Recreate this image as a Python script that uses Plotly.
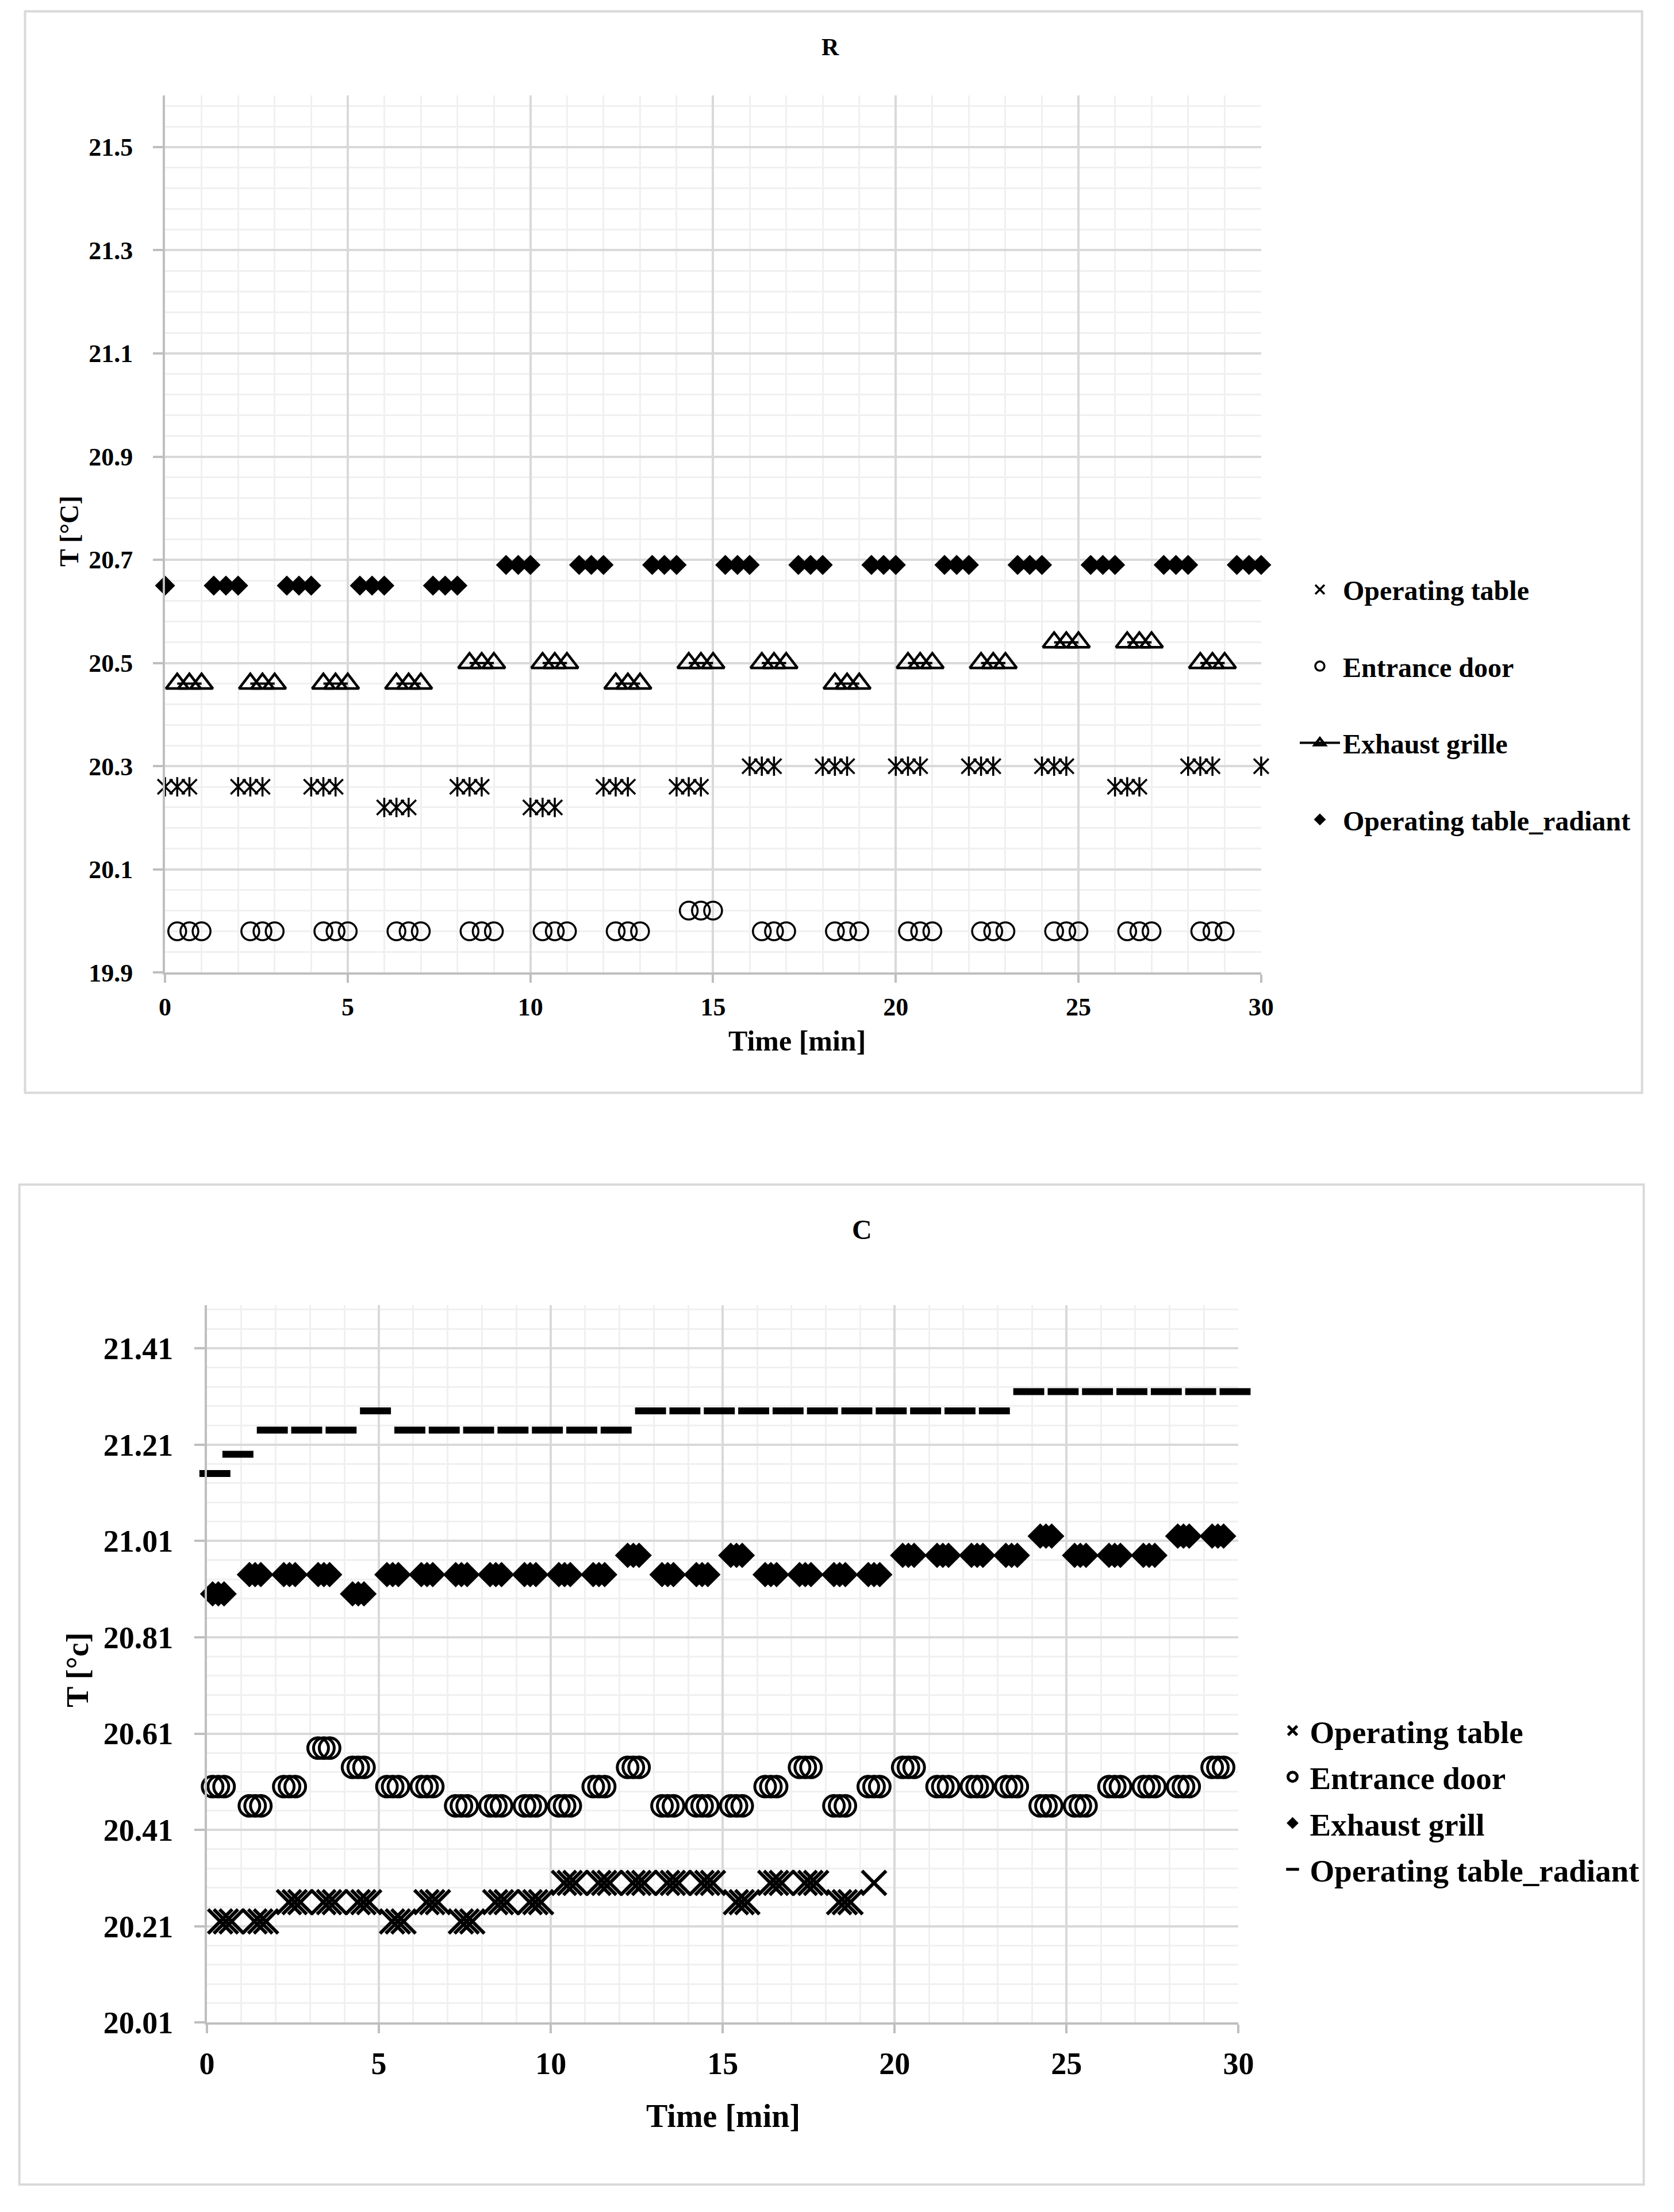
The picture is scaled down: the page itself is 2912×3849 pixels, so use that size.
import plotly.graph_objects as go

W, H = 2912, 3849
FONT = "Liberation Serif"

# ---------------- Chart R (top) : readings every 20 s, groups of 3 ----------------
R_STEP = 1 / 3
# Operating table: groups start at even minutes
R_OT_ANCHOR = [0, 2, 4, 6, 8, 10, 12, 14, 16, 18, 20, 22, 24, 26, 28, 30]
R_OT_VAL = [20.26, 20.26, 20.26, 20.22, 20.26, 20.22, 20.26, 20.26,
            20.30, 20.30, 20.30, 20.30, 20.30, 20.26, 20.30, 20.30]
R_OT_N = [3, 3, 3, 3, 3, 3, 3, 3, 3, 3, 3, 3, 3, 3, 3, 1]
# Entrance door: groups end at odd minutes
R_ED_ANCHOR = [1, 3, 5, 7, 9, 11, 13, 15, 17, 19, 21, 23, 25, 27, 29]
R_ED_VAL = [19.98, 19.98, 19.98, 19.98, 19.98, 19.98, 19.98, 20.02,
            19.98, 19.98, 19.98, 19.98, 19.98, 19.98, 19.98]
R_ED_N = [3] * 15
# Exhaust grille: groups end at odd minutes
R_EG_ANCHOR = [1, 3, 5, 7, 9, 11, 13, 15, 17, 19, 21, 23, 25, 27, 29]
R_EG_VAL = [20.46, 20.46, 20.46, 20.46, 20.50, 20.50, 20.46, 20.50,
            20.50, 20.46, 20.50, 20.50, 20.54, 20.54, 20.50]
R_EG_N = [3] * 15
# Operating table_radiant: groups end at even minutes
R_RAD_ANCHOR = [0, 2, 4, 6, 8, 10, 12, 14, 16, 18, 20, 22, 24, 26, 28, 30]
R_RAD_VAL = [20.65, 20.65, 20.65, 20.65, 20.65, 20.69, 20.69, 20.69,
             20.69, 20.69, 20.69, 20.69, 20.69, 20.69, 20.69, 20.69]
R_RAD_N = [1, 3, 3, 3, 3, 3, 3, 3, 3, 3, 3, 3, 3, 3, 3, 3]

# ---------------- Chart C (bottom) : readings every 10 s, clusters of 3 ----------------
C_STEP = 1 / 6
C_OT_CENTER = [0.55, 1.55, 2.55, 3.55, 4.55, 5.55, 6.55, 7.55, 8.55, 9.55,
               10.55, 11.55, 12.55, 13.55, 14.55, 15.55, 16.55, 17.55, 18.55, 19.4]
C_OT_VAL = [20.22, 20.22, 20.26, 20.26, 20.26, 20.22, 20.26, 20.22, 20.26, 20.26,
            20.30, 20.30, 20.30, 20.30, 20.30, 20.26, 20.30, 20.30, 20.26, 20.30]
C_OT_N = [3] * 19 + [1]

C_MIN_CENTER = [0.33, 1.4, 2.4, 3.4, 4.4, 5.4, 6.4, 7.4, 8.4, 9.4,
                10.4, 11.4, 12.4, 13.4, 14.4, 15.4, 16.4, 17.4, 18.4, 19.4,
                20.4, 21.4, 22.4, 23.4, 24.4, 25.4, 26.4, 27.4, 28.4, 29.4]
C_ED_VAL = [20.50, 20.46, 20.50, 20.58, 20.54, 20.50, 20.50, 20.46, 20.46, 20.46,
            20.46, 20.50, 20.54, 20.46, 20.46, 20.46, 20.50, 20.54, 20.46, 20.50,
            20.54, 20.50, 20.50, 20.50, 20.46, 20.46, 20.50, 20.50, 20.50, 20.54]
C_ED_N = [3] * 30
C_EG_VAL = [20.90, 20.94, 20.94, 20.94, 20.90, 20.94, 20.94, 20.94, 20.94, 20.94,
            20.94, 20.94, 20.98, 20.94, 20.94, 20.98, 20.94, 20.94, 20.94, 20.94,
            20.98, 20.98, 20.98, 20.98, 21.02, 20.98, 20.98, 20.98, 21.02, 21.02]
C_EG_N = [3] * 30

C_RAD_T = [0.23, 0.9, 1.9, 2.9, 3.9, 4.9, 5.9, 6.9, 7.9, 8.9, 9.9,
           10.9, 11.9, 12.9, 13.9, 14.9, 15.9, 16.9, 17.9, 18.9, 19.9,
           20.9, 21.9, 22.9, 23.9, 24.9, 25.9, 26.9, 27.9, 28.9, 29.9]
C_RAD_VAL = [21.15, 21.19, 21.24, 21.24, 21.24, 21.28, 21.24, 21.24, 21.24, 21.24, 21.24,
             21.24, 21.24, 21.28, 21.28, 21.28, 21.28, 21.28, 21.28, 21.28, 21.28,
             21.28, 21.28, 21.28, 21.32, 21.32, 21.32, 21.32, 21.32, 21.32, 21.32]


def expand(anchor, vals, counts, step, mode, gaps=False):
    xs, ys = [], []
    for a, v, n in zip(anchor, vals, counts):
        for k in range(n):
            if mode == "start":
                t = a + k * step
            elif mode == "end":
                t = a - (n - 1 - k) * step
            else:
                t = a + (k - (n - 1) / 2) * step
            xs.append(t)
            ys.append(v)
        if gaps:
            xs.append(None)
            ys.append(None)
    return xs, ys


def px_x(p):
    return p / W


def px_y(p):
    return 1 - p / H


fig = go.Figure()
BLACK = "black"

# ---- top traces ----
x, y = expand(R_OT_ANCHOR, R_OT_VAL, R_OT_N, R_STEP, "start")
fig.add_trace(go.Scatter(x=x, y=y, mode="markers", name="Operating table", legendgroup="r1",
                         marker=dict(symbol="x-thin-open", size=26, color=BLACK, line=dict(width=3.5, color=BLACK)),
                         cliponaxis=False, xaxis="x", yaxis="y", legend="legend"))
fig.add_trace(go.Scatter(x=x, y=y, mode="markers", name="Operating table", legendgroup="r1", showlegend=False,
                         marker=dict(symbol="line-ns-open", size=24, color=BLACK, line=dict(width=3.5, color=BLACK)),
                         cliponaxis=False, xaxis="x", yaxis="y", legend="legend"))
x, y = expand(R_ED_ANCHOR, R_ED_VAL, R_ED_N, R_STEP, "end")
fig.add_trace(go.Scatter(x=x, y=y, mode="markers", name="Entrance door", legendgroup="r2",
                         marker=dict(symbol="circle-open", size=31, color=BLACK, line=dict(width=3.5, color=BLACK)),
                         cliponaxis=False, xaxis="x", yaxis="y", legend="legend"))
x, y = expand(R_EG_ANCHOR, R_EG_VAL, R_EG_N, R_STEP, "end", gaps=True)
fig.add_trace(go.Scatter(x=x, y=y, mode="lines+markers", name="Exhaust grille", legendgroup="r3",
                         connectgaps=False, line=dict(color=BLACK, width=4),
                         marker=dict(symbol="triangle-up-open", size=34, color=BLACK, line=dict(width=4.5, color=BLACK)),
                         cliponaxis=False, xaxis="x", yaxis="y", legend="legend"))
x, y = expand(R_RAD_ANCHOR, R_RAD_VAL, R_RAD_N, R_STEP, "end")
fig.add_trace(go.Scatter(x=x, y=y, mode="markers", name="Operating table_radiant", legendgroup="r4",
                         marker=dict(symbol="diamond", size=27, color=BLACK, line=dict(width=0)),
                         cliponaxis=False, xaxis="x", yaxis="y", legend="legend"))

# ---- bottom traces ----
x, y = expand(C_OT_CENTER, C_OT_VAL, C_OT_N, C_STEP, "center")
fig.add_trace(go.Scatter(x=x, y=y, mode="markers", name="Operating table", legendgroup="c1",
                         marker=dict(symbol="x-thin-open", size=42, color=BLACK, line=dict(width=6, color=BLACK)),
                         cliponaxis=False, xaxis="x2", yaxis="y2", legend="legend2"))
x, y = expand(C_MIN_CENTER, C_ED_VAL, C_ED_N, C_STEP, "center")
fig.add_trace(go.Scatter(x=x, y=y, mode="markers", name="Entrance door", legendgroup="c2",
                         marker=dict(symbol="circle-open", size=36, color=BLACK, line=dict(width=5, color=BLACK)),
                         cliponaxis=False, xaxis="x2", yaxis="y2", legend="legend2"))
x, y = expand(C_MIN_CENTER, C_EG_VAL, C_EG_N, C_STEP, "center")
fig.add_trace(go.Scatter(x=x, y=y, mode="markers", name="Exhaust grill", legendgroup="c3",
                         marker=dict(symbol="diamond", size=34, color=BLACK, line=dict(width=0)),
                         cliponaxis=False, xaxis="x2", yaxis="y2", legend="legend2"))
fig.add_trace(go.Scatter(x=C_RAD_T, y=C_RAD_VAL, mode="markers", name="Operating table_radiant", legendgroup="c4",
                         marker=dict(symbol="line-ew-open", size=38.5, color=BLACK, line=dict(width=12, color=BLACK)),
                         cliponaxis=False, xaxis="x2", yaxis="y2", legend="legend2"))

MAJ = "#d9d9d9"
MINC = "#f0f0f0"
AXL = "#bfbfbf"


def xaxis(domain, anchor, fsize, ticklen, standoff):
    return dict(domain=domain, anchor=anchor, range=[0, 30], tick0=0, dtick=5,
                showgrid=True, gridcolor=MAJ, gridwidth=4,
                minor=dict(tick0=0, dtick=1, showgrid=True, gridcolor=MINC, gridwidth=3, ticks=""),
                ticks="outside", ticklen=ticklen, tickwidth=4, tickcolor=AXL,
                showline=True, linecolor=AXL, linewidth=4, zeroline=False,
                tickfont=dict(family=FONT, size=fsize, color=BLACK, weight="bold"),
                ticklabelstandoff=standoff, fixedrange=True)


def yaxis(domain, anchor, rng, t0, fmt, fsize, ticklen, standoff):
    return dict(domain=domain, anchor=anchor, range=rng, tick0=t0, dtick=0.2, tickformat=fmt,
                showgrid=True, gridcolor=MAJ, gridwidth=4,
                minor=dict(tick0=t0, dtick=0.04, showgrid=True, gridcolor=MINC, gridwidth=3, ticks=""),
                ticks="outside", ticklen=ticklen, tickwidth=4, tickcolor=AXL,
                showline=True, linecolor=AXL, linewidth=4, zeroline=False,
                tickfont=dict(family=FONT, size=fsize, color=BLACK, weight="bold"),
                ticklabelstandoff=standoff, fixedrange=True)


fig.update_layout(
    width=W, height=H, margin=dict(l=0, r=0, t=0, b=0, pad=0),
    paper_bgcolor="white", plot_bgcolor="white",
    xaxis=xaxis([px_x(277), px_x(2211)], "y", 44, 14, 4),
    yaxis=yaxis([px_y(1706), px_y(167.5)], "x", [19.9, 21.6], 19.9, ".1f", 44, 17, 26),
    xaxis2=xaxis([px_x(351), px_x(2171)], "y2", 54, 15, 6),
    yaxis2=yaxis([px_y(3548), px_y(2289)], "x2", [20.01, 21.50], 20.01, ".2f", 54, 18, 26),
    legend=dict(x=px_x(2274), y=px_y(996), xanchor="left", yanchor="top",
                font=dict(family=FONT, size=48, color=BLACK, weight="bold"),
                itemwidth=70, tracegroupgap=68, bgcolor="rgba(0,0,0,0)", borderwidth=0),
    legend2=dict(x=px_x(2236), y=px_y(2993), xanchor="left", yanchor="top",
                 font=dict(family=FONT, size=55, color=BLACK, weight="bold"),
                 itemwidth=50, tracegroupgap=6, bgcolor="rgba(0,0,0,0)", borderwidth=0),
    showlegend=True,
    hovermode=False,
    shapes=[
        dict(type="rect", xref="paper", yref="paper", x0=px_x(30), x1=px_x(2883), y0=px_y(1917), y1=px_y(20),
             line=dict(color=MAJ, width=4), fillcolor="rgba(0,0,0,0)", layer="below"),
        dict(type="rect", xref="paper", yref="paper", x0=px_x(20), x1=px_x(2886), y0=px_y(3832), y1=px_y(2078),
             line=dict(color=MAJ, width=4), fillcolor="rgba(0,0,0,0)", layer="below"),
    ],
)


def ann(text, xp, yp, size, angle=0):
    return dict(text=text, x=px_x(xp), y=px_y(yp), xref="paper", yref="paper", showarrow=False,
                xanchor="center", yanchor="middle", textangle=angle,
                font=dict(family=FONT, size=size, color=BLACK, weight="bold"))


fig.update_layout(annotations=[
    ann("R", 1451, 83, 42),
    ann("T [°C]", 108, 931, 46, -90),
    ann("Time [min]", 1392, 1826, 50),
    ann("C", 1507, 2157, 48),
    ann("T [°c]", 123, 2929, 54, -90),
    ann("Time [min]", 1262, 3712, 56),
])

fig.write_html("out.html", config={"displayModeBar": False},
               post_script="document.body.style.margin='0';document.body.style.overflow='hidden';")
